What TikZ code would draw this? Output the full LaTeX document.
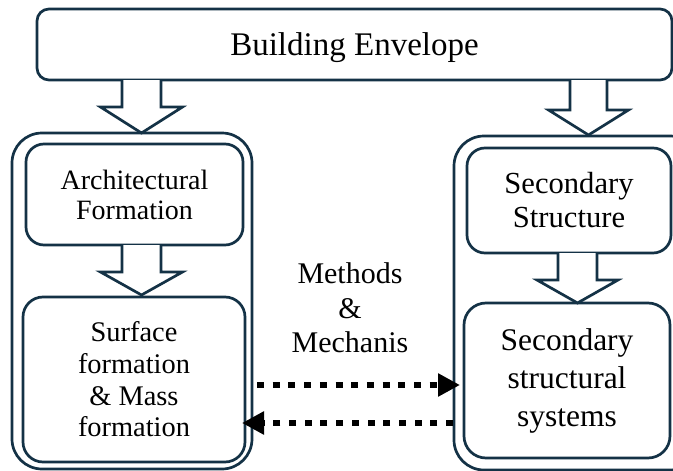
\documentclass[tikz,border=0pt]{standalone}
\usepackage{fontspec}
\setmainfont{Liberation Serif}
\usetikzlibrary{arrows.meta,calc}
\definecolor{edge}{HTML}{143246}
\tikzset{
  box/.style={draw=edge, line width=2.7pt, rounded corners=#1, fill=white, align=center, inner sep=0pt},
  container/.style={draw=edge, line width=2.7pt, rounded corners=30pt, inner sep=0pt},
  barrow/.style={draw=edge, fill=white, line width=2.7pt, line join=miter},
  dotarrow/.style={black, line width=6.5pt, dash pattern=on 7pt off 8.7pt, -{Triangle[length=22pt,width=22pt]}},
  lbl/.style={align=center, inner sep=0pt}
}
\begin{document}
\begin{tikzpicture}[x=1pt,y=-1pt]
\clip (0,0) rectangle (673,471);
\fill[white] (0,0) rectangle (673,471);
% containers
\node[container, minimum width=240pt, minimum height=336pt] (lo) at (132,301) {};
\node[container, minimum width=246pt, minimum height=334pt] (ro) at (577,303) {};
% boxes
\node[box=12pt, minimum width=635pt, minimum height=71pt, font=\fontsize{33}{38}\selectfont, text depth=0pt] (be) at (354.5,44.5) {Building Envelope};
\node[box=18pt, minimum width=217pt, minimum height=101pt, font=\fontsize{28}{30}\selectfont] (af) at (134.5,194.5) {Architectural\\Formation};
\node[box=20pt, minimum width=222pt, minimum height=165pt, font=\fontsize{28.4}{31.7}\selectfont] (sf) at (134,379.5) {Surface\\formation\\\& Mass\\formation};
\node[box=18pt, minimum width=204pt, minimum height=105pt, font=\fontsize{30.6}{34}\selectfont] (ss) at (569,200.5) {Secondary\\Structure};
\node[box=22pt, minimum width=206pt, minimum height=155pt, font=\fontsize{31.5}{38}\selectfont] (sss) at (567,380.5) {Secondary\\structural\\systems};
% block arrows
\coordinate (a1) at (141.5,80);
\coordinate (a2) at (141.5,245);
\coordinate (a3) at (588.5,80);
\coordinate (a4) at (577.5,253);
\draw[barrow] (a1) ++(-19.5,0) -- ++(0,27) -- ++(-21.5,0) -- ++(41,26) -- ++(41,-26) -- ++(-21.5,0) -- ++(0,-27);
\draw[barrow] (a2) ++(-19.5,0) -- ++(0,27) -- ++(-21.5,0) -- ++(41,23) -- ++(41,-23) -- ++(-21.5,0) -- ++(0,-27);
\draw[barrow] (a3) ++(-18.5,0) -- ++(0,30) -- ++(-21.5,0) -- ++(40,25) -- ++(40,-25) -- ++(-21.5,0) -- ++(0,-30);
\draw[barrow] (a4) ++(-19.5,0) -- ++(0,27) -- ++(-21,0) -- ++(40.5,23) -- ++(40.5,-23) -- ++(-21,0) -- ++(0,-27);
% label
\node[lbl, font=\fontsize{30}{34.5}\selectfont] (mm) at (350,308) {Methods\\\&\\Mechanis};
% dotted arrows
\coordinate (d1s) at (257,385);
\coordinate (d1e) at (460,385);
\coordinate (d2s) at (453,423);
\coordinate (d2e) at (242,423);
\draw[dotarrow] (d1s) -- (d1e);
\draw[dotarrow] (d2s) -- (d2e);
\end{tikzpicture}
\end{document}
